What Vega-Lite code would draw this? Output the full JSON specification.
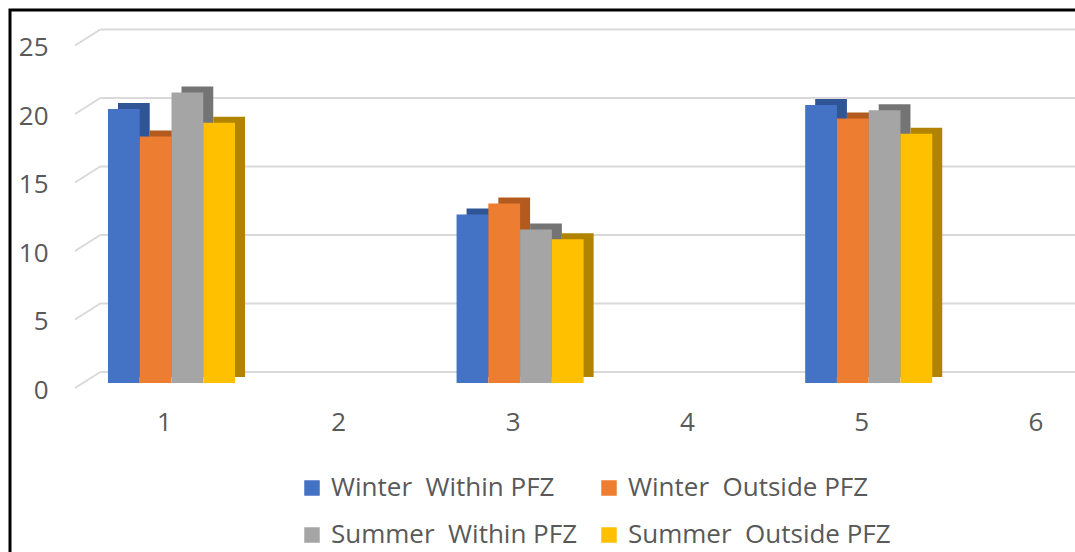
{
  "$schema": "https://vega.github.io/schema/vega-lite/v6.json",
  "autosize": {"type": "none"},
  "padding": {"left": 10, "top": 10, "right": -20, "bottom": -20},
  "width": 1085,
  "height": 562,
  "config": {"view": {"stroke": "black", "strokeWidth": 3}, "font": "Open Sans"},
  "datasets": {
    "bars": [
      {"pos": "1", "series": "Winter\u00a0 Within PFZ", "value": 20.0},
      {"pos": "1", "series": "Winter\u00a0 Outside PFZ", "value": 18.0},
      {"pos": "1", "series": "Summer\u00a0 Within PFZ", "value": 21.2},
      {"pos": "1", "series": "Summer\u00a0 Outside PFZ", "value": 19.0},
      {"pos": "3", "series": "Winter\u00a0 Within PFZ", "value": 12.3},
      {"pos": "3", "series": "Winter\u00a0 Outside PFZ", "value": 13.1},
      {"pos": "3", "series": "Summer\u00a0 Within PFZ", "value": 11.2},
      {"pos": "3", "series": "Summer\u00a0 Outside PFZ", "value": 10.5},
      {"pos": "5", "series": "Winter\u00a0 Within PFZ", "value": 20.3},
      {"pos": "5", "series": "Winter\u00a0 Outside PFZ", "value": 19.3},
      {"pos": "5", "series": "Summer\u00a0 Within PFZ", "value": 19.9},
      {"pos": "5", "series": "Summer\u00a0 Outside PFZ", "value": 18.2}
    ],
    "grid": [{"v": 0}, {"v": 5}, {"v": 10}, {"v": 15}, {"v": 20}, {"v": 25}]
  },
  "layer": [
    {
      "data": {"name": "grid"},
      "mark": {"type": "rule", "color": "#d9d9d9", "strokeWidth": 2},
      "encoding": {
        "y": {
          "field": "v", "type": "quantitative",
          "scale": {"domain": [0, 25], "range": [362, 19.5]},
          "axis": {"title": null, "orient": "left", "domain": false, "ticks": false, "grid": false,
            "values": [0, 5, 10, 15, 20, 25], "labelFontSize": 26, "labelColor": "#595959",
            "offset": -40, "labelPadding": 2, "labelOffset": 18}
        },
        "x": {"datum": 1, "type": "quantitative", "scale": {"domain": [0, 40], "range": [65, 1075]}, "axis": null},
        "x2": {"datum": 41}
      }
    },
    {
      "data": {"name": "grid"},
      "mark": {"type": "rule", "color": "#d9d9d9", "strokeWidth": 2, "yOffset": 16},
      "encoding": {
        "y": {"field": "v", "type": "quantitative", "scale": {"domain": [0, 25], "range": [362, 19.5]}, "axis": null},
        "y2": {"field": "v"},
        "x": {"datum": 0, "type": "quantitative", "scale": {"domain": [0, 40], "range": [65, 1075]}, "axis": null},
        "x2": {"datum": 1}
      }
    },
    {
      "data": {"name": "bars"},
      "mark": {"type": "bar", "yOffset": -6},
      "encoding": {
        "x": {
          "field": "pos", "type": "nominal",
          "scale": {"domain": ["1", "2", "3", "4", "5", "6"], "range": [84.35, 1130.15], "paddingInner": 0.271, "paddingOuter": 0.1355},
          "axis": null
        },
        "xOffset": {
          "field": "series", "type": "nominal",
          "scale": {"domain": ["Winter\u00a0 Within PFZ", "Winter\u00a0 Outside PFZ", "Summer\u00a0 Within PFZ", "Summer\u00a0 Outside PFZ"]}
        },
        "y": {"field": "value", "type": "quantitative", "scale": {"domain": [0, 25], "range": [373, 30.5]}, "axis": null},
        "fill": {
          "field": "series", "type": "nominal", "legend": null,
          "scale": {
            "domain": ["Summer\u00a0 Outside PFZ", "Summer\u00a0 Within PFZ", "Winter\u00a0 Outside PFZ", "Winter\u00a0 Within PFZ"],
            "range": ["#b08400", "#747474", "#b35a1f", "#2f5597"]
          }
        }
      }
    },
    {
      "data": {"name": "bars"},
      "mark": {"type": "bar"},
      "encoding": {
        "x": {
          "field": "pos", "type": "nominal",
          "scale": {"domain": ["1", "2", "3", "4", "5", "6"], "range": [74.35, 1120.15], "paddingInner": 0.271, "paddingOuter": 0.1355},
          "axis": {"title": null, "domain": false, "ticks": false, "grid": false, "labelAngle": 0,
            "labelFontSize": 26, "labelColor": "#595959", "labelPadding": 0, "labelBaseline": "middle",
            "offset": -150, "labelOffset": -7}
        },
        "xOffset": {
          "field": "series", "type": "nominal",
          "scale": {"domain": ["Winter\u00a0 Within PFZ", "Winter\u00a0 Outside PFZ", "Summer\u00a0 Within PFZ", "Summer\u00a0 Outside PFZ"]}
        },
        "y": {"field": "value", "type": "quantitative", "scale": {"domain": [0, 25], "range": [373, 30.5]}, "axis": null},
        "color": {
          "field": "series", "type": "nominal",
          "scale": {
            "domain": ["Winter\u00a0 Within PFZ", "Winter\u00a0 Outside PFZ", "Summer\u00a0 Within PFZ", "Summer\u00a0 Outside PFZ"],
            "range": ["#4472c4", "#ed7d31", "#a5a5a5", "#ffc000"]
          },
          "legend": {
            "title": null, "orient": "none", "direction": "horizontal", "legendX": 289, "legendY": 465, "columns": 2,
            "symbolType": "square", "symbolSize": 240, "symbolStrokeWidth": 0,
            "labelFontSize": 26, "labelColor": "#595959", "labelLimit": 400,
            "rowPadding": 21, "columnPadding": 18, "labelOffset": 6, "padding": 0
          }
        }
      }
    }
  ],
  "resolve": {"scale": {"x": "independent", "y": "independent", "xOffset": "independent"}}
}
